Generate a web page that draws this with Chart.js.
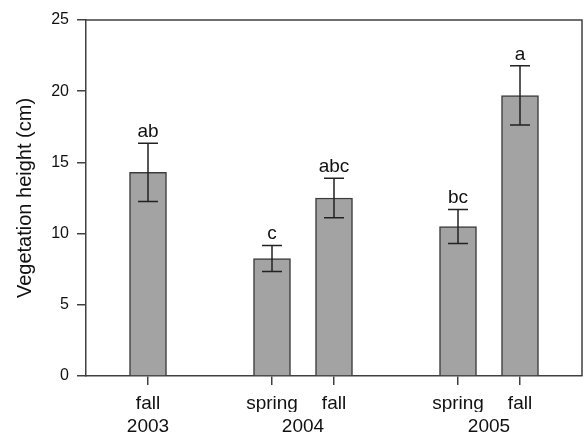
<!DOCTYPE html>
<html>
<head>
<meta charset="utf-8">
<script src="https://cdn.jsdelivr.net/npm/chart.js@4/dist/chart.umd.min.js"></script>
<style>
  html, body { margin: 0; padding: 0; background: #fff; }
  #wrap { width: 583px; height: 434px; }
</style>
</head>
<body>
<div id="wrap"><canvas id="chart"></canvas></div>
<script>
// bar positions on the x scale (gaps separate the years)
var positions = [1, 3, 4, 6, 7];
var seasons = ["fall", "spring", "fall", "spring", "fall"];
var heights = [14.3, 8.25, 12.5, 10.5, 19.7];
var errors = [2.05, 0.92, 1.38, 1.2, 2.08];
var letters = ["ab", "c", "abc", "bc", "a"];
var yearPos = [1, 3.5, 6.5];
var years = ["2003", "2004", "2005"];
var yTicks = [0, 5, 10, 15, 20, 25];

var FONT = "'Liberation Sans', Arial, Helvetica, sans-serif";
var AXIS = "#404040";
var TEXT = "#111";

// error bars, significance letters and the box round the plot
var extras = {
	id : "extras",
	afterDatasetsDraw : function(chart) {
		var ctx = chart.ctx;
		var x = chart.scales.x;
		var y = chart.scales.y;
		var a = chart.chartArea;
		ctx.save();
		ctx.strokeStyle = "#222";
		ctx.lineWidth = 1.5;
		for (var i = 0; i < positions.length; i++) {
			var px = x.getPixelForValue(positions[i]);
			var top = y.getPixelForValue(heights[i] + errors[i]);
			var bot = y.getPixelForValue(heights[i] - errors[i]);
			ctx.beginPath();
			ctx.moveTo(px, top); ctx.lineTo(px, bot);
			ctx.moveTo(px - 10, top); ctx.lineTo(px + 10, top);
			ctx.moveTo(px - 10, bot); ctx.lineTo(px + 10, bot);
			ctx.stroke();

			ctx.fillStyle = TEXT;
			ctx.font = "19px " + FONT;
			ctx.textAlign = "center";
			ctx.textBaseline = "alphabetic";
			ctx.fillText(letters[i], px, top - 6);
		}
		// top and right sides of the frame
		ctx.strokeStyle = AXIS;
		ctx.lineWidth = 1.5;
		ctx.beginPath();
		ctx.moveTo(a.left, a.top);
		ctx.lineTo(a.right, a.top);
		ctx.lineTo(a.right, a.bottom);
		ctx.stroke();
		ctx.restore();
	}
};

var ctx = document.getElementById("chart");

var data = {
	datasets : [
		{
			label : "Vegetation height",
			data : positions.map(function(p, i) { return { x : p, y : heights[i] }; }),
			backgroundColor : "#a3a3a3",
			borderColor : "#3c3c3c",
			borderWidth : 1.5,
			barThickness : 37
		}
	]
};

var options = {
	responsive : true,
	maintainAspectRatio : false,
	animation : false,
	layout : { padding : { left : 0, top : 20, right : 1, bottom : 0 } },
	plugins : {
		legend : { display : false },
		tooltip : { enabled : false }
	},
	scales : {
		x : {
			type : "linear",
			position : "bottom",
			offset : false,
			min : 0,
			max : 8,
			afterBuildTicks : function(axis) {
				axis.ticks = positions.map(function(v) { return { value : v }; });
			},
			grid : { offset : false, drawOnChartArea : false, drawTicks : true, tickLength : 9, color : AXIS, lineWidth : 1.5 },
			border : { display : true, color : AXIS, width : 1.5 },
			ticks : {
				autoSkip : false,
				maxRotation : 0,
				padding : 7,
				color : TEXT,
				font : { size : 19, family : FONT },
				callback : function(v, i) { return seasons[i]; }
			},
			afterFit : function(s) { s.height = 36; }
		},
		x2 : {
			type : "linear",
			position : "bottom",
			offset : false,
			min : 0,
			max : 8,
			afterBuildTicks : function(axis) {
				axis.ticks = yearPos.map(function(v) { return { value : v }; });
			},
			grid : { display : false, drawTicks : false, offset : false },
			border : { display : false },
			ticks : {
				autoSkip : false,
				maxRotation : 0,
				padding : 3,
				color : TEXT,
				font : { size : 19, family : FONT },
				callback : function(v, i) { return years[i]; }
			},
			afterFit : function(s) { s.height = 22; }
		},
		y : {
			min : 0,
			max : 25,
			afterBuildTicks : function(axis) {
				axis.ticks = yTicks.map(function(v) { return { value : v }; });
			},
			grid : { drawOnChartArea : false, drawTicks : true, tickLength : 9, color : AXIS, lineWidth : 1.5 },
			border : { display : true, color : AXIS, width : 1.5 },
			ticks : {
				padding : 8,
				color : TEXT,
				font : { size : 16, family : FONT }
			},
			title : {
				display : true,
				text : "Vegetation height (cm)",
				color : TEXT,
				font : { size : 20, family : FONT },
				padding : { top : 13, bottom : 0 }
			},
			afterFit : function(s) { s.width = 86; }
		}
	}
};

var chart = new Chart(ctx, {
	type : "bar",
	data : data,
	options : options,
	plugins : [extras]
});
</script>
</body>
</html>
